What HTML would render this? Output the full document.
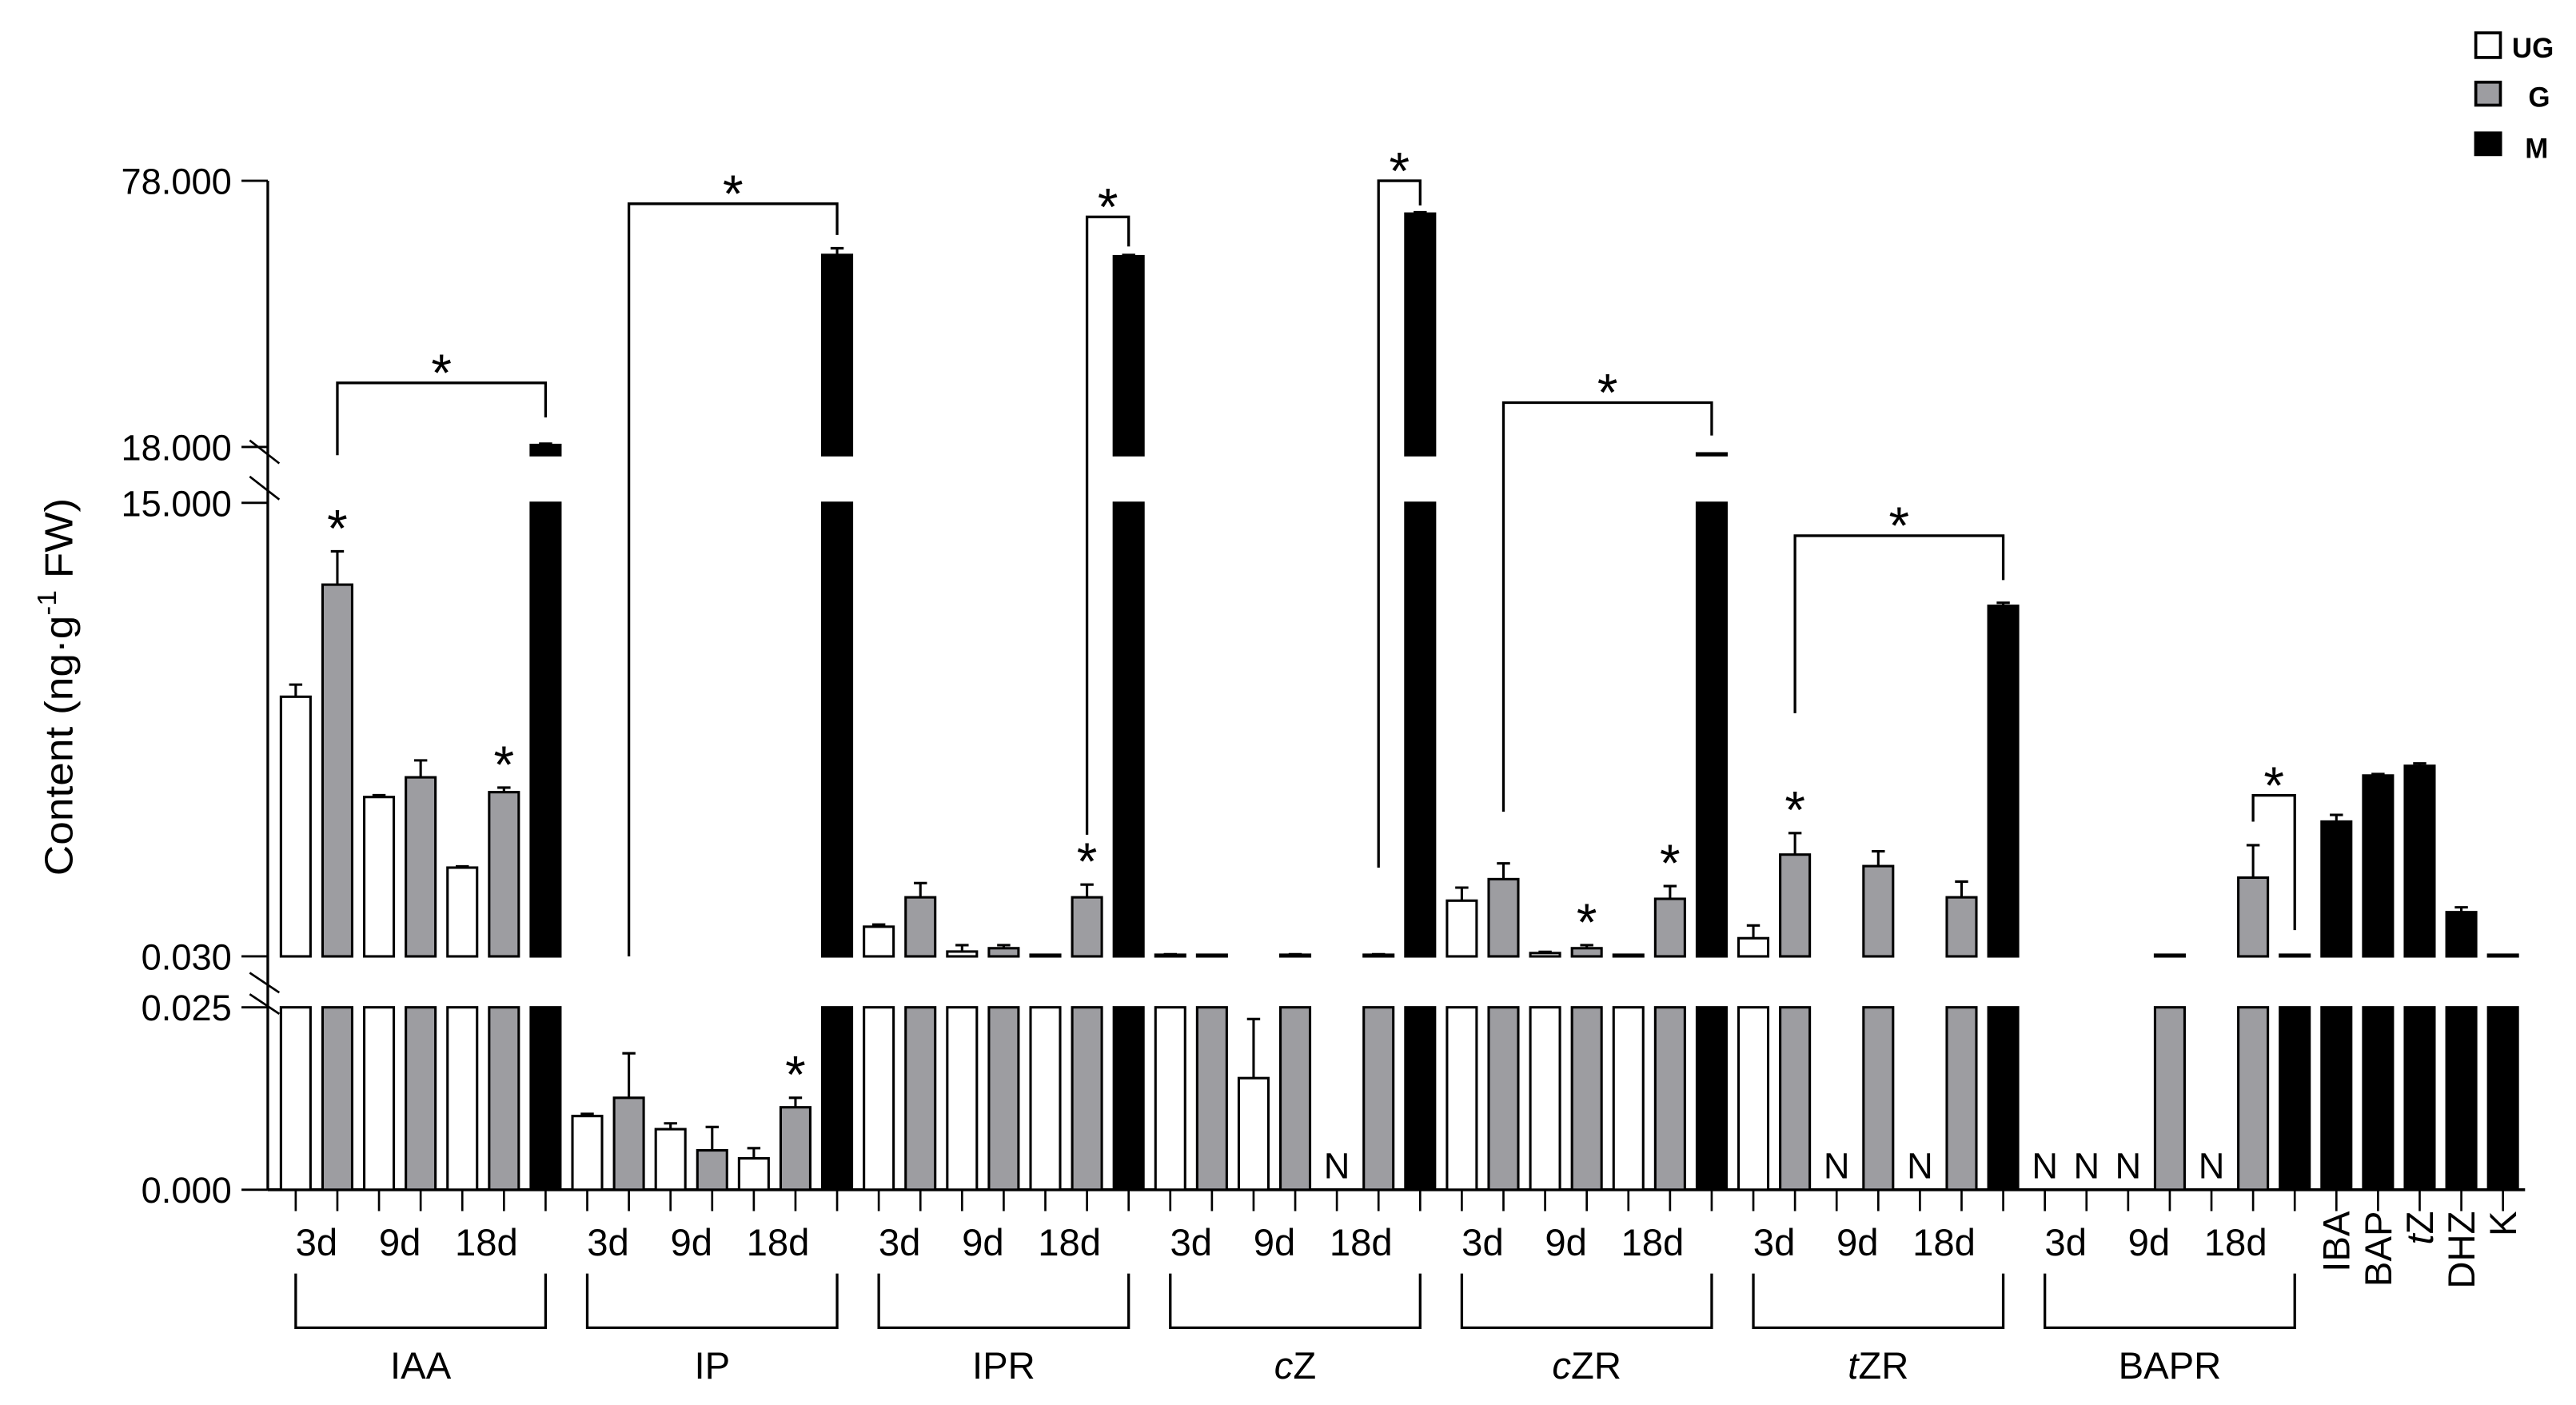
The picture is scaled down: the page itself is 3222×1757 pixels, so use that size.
<!DOCTYPE html>
<html><head><meta charset="utf-8"><style>
html,body{margin:0;padding:0;background:#fff;}
svg{display:block;font-family:"Liberation Sans",Arial,sans-serif;}
</style></head><body>
<svg id="chart" width="3222" height="1757" viewBox="0 0 1568 855" preserveAspectRatio="none" xmlns="http://www.w3.org/2000/svg">
<g id="g-axes"></g>
<g id="g-bars"></g>
<g id="g-annot"></g>
<g id="g-legend">
  <rect x="1507" y="20" width="15" height="15" fill="#fff" stroke="#000" stroke-width="1.8"/>
  <text x="1529" y="35" font-size="17" font-weight="bold">UG</text>
  <rect x="1507" y="50" width="15" height="14" fill="#9d9da1" stroke="#000" stroke-width="1.8"/>
  <text x="1539" y="65" font-size="17" font-weight="bold">G</text>
  <rect x="1506" y="80" width="17" height="15" fill="#000"/>
  <text x="1537" y="96" font-size="17" font-weight="bold">M</text>
</g>
</svg>
<script>
// ---- data ----
const groups = ["IAA","IP","IPR","cZ","cZR","tZR","BAPR"];
const groupItalic = ["","","","c","c","t",""];
const days = ["3d","9d","18d"];
const extraLabels = ["IBA","BAP","tZ","DHZ","K"];
// per group: [UG3,G3,UG9,G9,UG18,G18,M]
const values = [
  [8.6,12.3,5.29,5.94,2.96,5.45,18.5],
  [0.0101,0.0126,0.0083,0.0054,0.0043,0.0113,61.3],
  [1.01,1.98,0.19,0.30,0.05,1.98,61.0],
  [0.06,0.04,0.0153,0.06,0,0.06,70.6],
  [1.87,2.58,0.14,0.30,0.04,1.93,16.6],
  [0.63,3.39,0,3.01,0,1.98,11.6],
  [0,0,0,0.04,0,2.63,0.04]
];
const errTops = [
  [9.0,13.4,5.35,6.5,3.0,5.6,18.8],
  [0.0104,0.0187,0.0091,0.0086,0.0057,0.0126,62.8],
  [1.08,2.45,0.40,0.40,0.05,2.40,61.3],
  [0.10,0.05,0.0234,0.10,0,0.10,70.9],
  [2.30,3.10,0.18,0.40,0.04,2.35,16.7],
  [1.05,4.10,0,3.50,0,2.50,11.7],
  [0,0,0,0.05,0,3.70,0.04]
];
const extraValues = [4.48,6.0,6.32,1.49,0.08];
const extraErr = [4.7,6.05,6.4,1.65,0.1];
const yTickLabels = ["0.000","0.025","0.030","15.000","18.000","78.000"];
const yTickValues = [0,0.025,0.03,15,18,78];
// significance brackets: [group, fromBarIndex, toBarIndex]
const brackets = [[0,1,6],[1,1,6],[2,5,6],[3,5,6],[4,1,6],[5,1,6],[6,5,6]];
const singleStars = [[0,1],[0,5],[1,5],[2,5],[4,3],[4,5],[5,1]];
</script>
<script>
const NS="http://www.w3.org/2000/svg";
function mk(tag,attrs,parent,text){const e=document.createElementNS(NS,tag);for(const k in attrs)e.setAttribute(k,attrs[k]);if(text!==undefined)e.textContent=text;parent.appendChild(e);return e;}
const segs=[{lo:0,hi:0.025,y0:724,y1:613},{lo:0.03,hi:15,y0:582,y1:306},{lo:16.2,hi:78,y0:277,y1:110}];
function yOf(v){
  if(v<=0.025)return 724-(v/0.025)*111;
  if(v<0.03)return 613;
  if(v<=15)return segs[1].y0-(v-0.03)/(14.97)*276;
  if(v<16.2)return 306;
  return segs[2].y0-(v-16.2)/(61.8)*167;
}
const x0=180,step=25.35,bw=18;
function xOf(i){return x0+i*step;}
const colors=["#fff","#9d9da1","#000"];
const axes=document.getElementById('g-axes'),bars=document.getElementById('g-bars'),ann=document.getElementById('g-annot');

let ya=mk('line',{x1:163,y1:110,x2:163,y2:724,stroke:'#000','stroke-width':1.6},axes);


yTickValues.forEach((v,i)=>{
  const y=[724,613,582,306,272,110][i];
  let t=mk('line',{x1:147,y1:y,x2:163,y2:y,stroke:'#000','stroke-width':1.4},axes);
  
  
  let tl=mk('text',{x:141,y:y+8,'font-size':22,'text-anchor':'end'},axes,yTickLabels[i]);
  
  
});
[[152,268,170,282],[152,290,170,304],[152,592,170,604],[152,605,170,617]].forEach(b=>{
  let l=mk('line',{x1:b[0],y1:b[1],x2:b[2],y2:b[3],stroke:'#000','stroke-width':1.3},axes);
  
  
});
let yt=mk('text',{x:0,y:0,'font-size':24,'text-anchor':'middle',transform:'translate(44,418) rotate(-90) scale(1.08,1)'},axes);


yt.innerHTML='Content (ng·g<tspan dy="-10" font-size="16">-1</tspan><tspan dy="10"> FW)</tspan>';
let xa=mk('line',{x1:163,y1:724,x2:1537,y2:724,stroke:'#000','stroke-width':1.8},axes);


for(let i=0;i<54;i++){
  let t=mk('line',{x1:xOf(i),y1:724,x2:xOf(i),y2:737,stroke:'#000','stroke-width':1.3},axes);
  
  
}

function drawBar(i,v,e,col,name){
  const x=xOf(i)-bw/2;
  if(v<=0){
    let n=mk('text',{x:xOf(i),y:717,'font-size':22,'text-anchor':'middle'},bars,'N');
    
    
    return;
  }
  segs.forEach(s=>{
    if(v<=s.lo)return;
    const top=yOf(Math.min(v,s.hi));
    const h=Math.max(s.y0-top,1);
    let r=mk('rect',{x:x,y:s.y0-h,width:bw,height:h,fill:colors[col],stroke:'#000','stroke-width':1.5},bars);
    
    
  });
  if(e>v){
    const yv=yOf(v),ye=yOf(e);
    if(yv-ye>0.5){
      let l=mk('line',{x1:xOf(i),y1:yv,x2:xOf(i),y2:ye,stroke:'#000','stroke-width':1.5},bars);
      
      
      let c=mk('line',{x1:xOf(i)-4,y1:ye,x2:xOf(i)+4,y2:ye,stroke:'#000','stroke-width':1.5},bars);
      
      
    }
  }
}
groups.forEach((g,gi)=>{
  values[gi].forEach((v,bi)=>{
    const col=bi===6?2:bi%2;
    drawBar(gi*7+bi,v,errTops[gi][bi],col,'bar-'+g.toLowerCase()+'-'+bi);
  });
  days.forEach((d,di)=>{
    const cx=(xOf(gi*7+di*2)+xOf(gi*7+di*2+1))/2+(di===2?2:0);
    let t=mk('text',{x:cx,y:764,'font-size':23,'text-anchor':'middle'},axes,d);
    
    
  });
  const a=xOf(gi*7),b=xOf(gi*7+6);
  let br=mk('polyline',{points:`${a},775 ${a},808 ${b},808 ${b},775`,fill:'none',stroke:'#000','stroke-width':1.6},axes);
  
  
  let gl=mk('text',{x:(a+b)/2,y:839,'font-size':23,'text-anchor':'middle'},axes);
  
  
  if(groupItalic[gi]){gl.innerHTML='<tspan font-style="italic">'+groupItalic[gi]+'</tspan>'+g.slice(1);}else gl.textContent=g;
});
extraLabels.forEach((lab,k)=>{
  const i=49+k;
  drawBar(i,extraValues[k],extraErr[k],2,'bar-'+lab.toLowerCase());
  let t=mk('text',{x:0,y:0,'font-size':23,'text-anchor':'end',transform:`translate(${xOf(i)+8},737) rotate(-90)`},axes);
  
  
  if(lab==='tZ')t.innerHTML='<tspan font-style="italic">t</tspan>Z';else t.textContent=lab;
});
const bGeom=[[277,233,254],[582,124,143],[508,132,150],[528,110,125],[494,245,265],[434,326,353],[500,484,566]];
brackets.forEach((b,k)=>{
  const g=b[0],xa_=xOf(g*7+b[1]),xb=xOf(g*7+b[2]),[ys,yt_,ye]=bGeom[k];
  let p=mk('polyline',{points:`${xa_},${ys} ${xa_},${yt_} ${xb},${yt_} ${xb},${ye}`,fill:'none',stroke:'#000','stroke-width':1.6},ann);
  
  
  let s=mk('text',{x:(xa_+xb)/2,y:yt_+5,'font-size':32,'text-anchor':'middle'},ann,'*');
  
  
});
singleStars.forEach(s=>{
  const i=s[0]*7+s[1];
  const ye=yOf(errTops[s[0]][s[1]]);
  let t=mk('text',{x:xOf(i),y:ye-3,'font-size':32,'text-anchor':'middle'},ann,'*');
  
  
});
</script>
</body></html>
